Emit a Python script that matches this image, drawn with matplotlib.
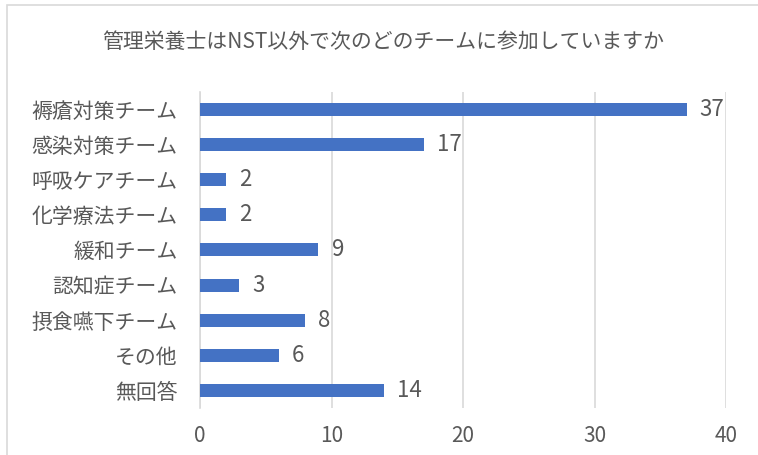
import matplotlib.pyplot as plt
from matplotlib.patches import Rectangle

plt.rcParams['font.family'] = ['Noto Sans CJK JP', 'DejaVu Sans']

categories = ["褥瘡対策チーム", "感染対策チーム", "呼吸ケアチーム", "化学療法チーム",
              "緩和チーム", "認知症チーム", "摂食嚥下チーム", "その他", "無回答"]
values = [37, 17, 2, 2, 9, 3, 8, 6, 14]
xticks = [0, 10, 20, 30, 40]
title = "管理栄養士はNST以外で次のどのチームに参加していますか"

text_color = "#595959"
bar_color = "#4472C4"
grid_color = "#D9D9D9"

fig = plt.figure(figsize=(7.58, 4.55), dpi=100)
ax = fig.add_axes([0.2639, 0.1033, 0.6939, 0.695])

y = list(range(len(categories)))
ax.barh(y, values, height=0.37, color=bar_color, zorder=3)
ax.set_ylim(len(categories) - 0.5, -0.5)
ax.set_xlim(0, 40)

for yi, v in zip(y, values):
    ax.text(v + 1.0, yi, str(v), ha="left", va="center",
            fontsize=16, color=text_color)

ax.set_yticks(y)
ax.set_yticklabels(categories, fontsize=15, color=text_color)
ax.set_xticks(xticks)
ax.set_xticklabels([str(t) for t in xticks], fontsize=15, color=text_color)
ax.tick_params(axis="y", length=0, pad=16)
ax.tick_params(axis="x", length=0, pad=12)

ax.grid(axis="x", color=grid_color, lw=1.2, zorder=0)
for s in ["top", "right", "bottom"]:
    ax.spines[s].set_visible(False)
ax.spines["left"].set_color(grid_color)
ax.spines["left"].set_linewidth(1.2)

fig.text(0.506, 0.908, title, ha="center", va="center",
         fontsize=15, color=text_color)

# chart frame (cropped on right / bottom)
fig.patches.append(Rectangle((7 / 758, -0.05), 1.2, 1.05 - 5 / 455,
                             transform=fig.transFigure, fill=False,
                             edgecolor=grid_color, lw=1.2))

plt.savefig("out.png", dpi=100)
